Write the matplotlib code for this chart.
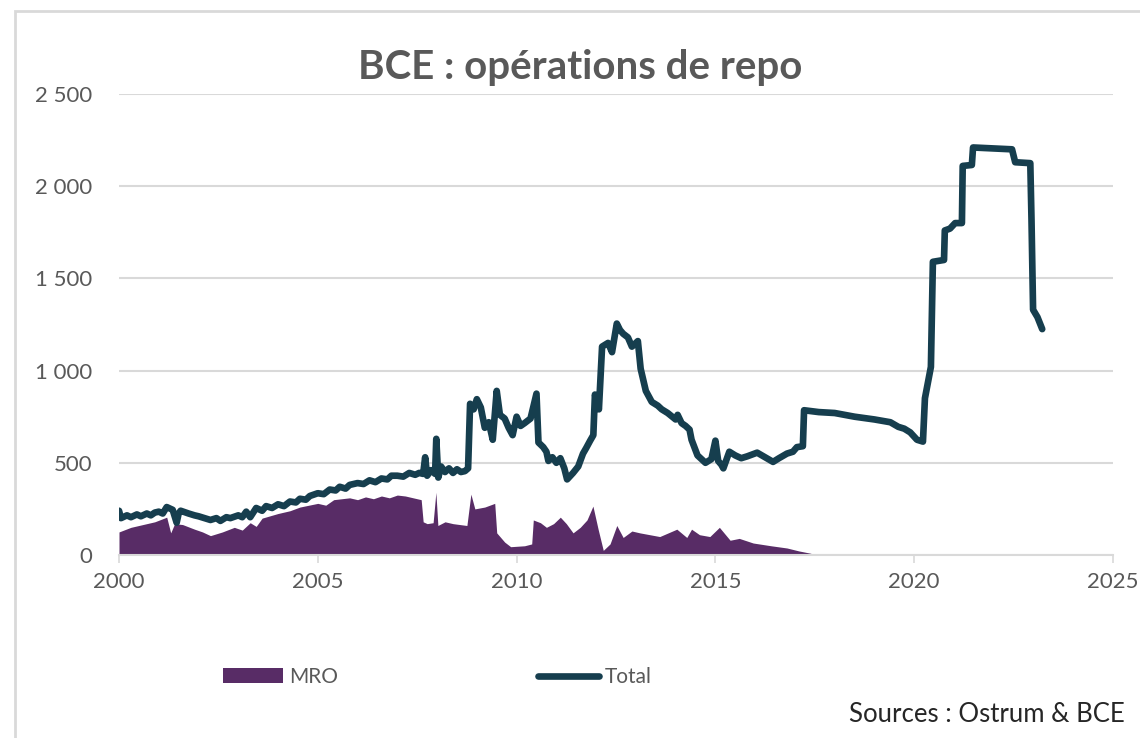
import matplotlib.pyplot as plt
from matplotlib.patches import Rectangle, Patch
from matplotlib.lines import Line2D
from matplotlib.ticker import FuncFormatter

plt.rcParams['font.family'] = ['Lato', 'DejaVu Sans']

# opérations de repo BCE (Mds EUR)
total_x = [2000.00, 2000.05, 2000.20, 2000.30, 2000.45, 2000.55, 2000.70, 2000.80, 2000.90, 2001.00,
           2001.10, 2001.20, 2001.35, 2001.45, 2001.50, 2001.55, 2001.75, 2001.90, 2002.00, 2002.15,
           2002.30, 2002.45, 2002.55, 2002.70, 2002.80, 2003.00, 2003.10, 2003.20, 2003.30, 2003.45,
           2003.60, 2003.70, 2003.85, 2004.00, 2004.15, 2004.30, 2004.45, 2004.55, 2004.70, 2004.80,
           2005.00, 2005.15, 2005.30, 2005.45, 2005.55, 2005.70, 2005.80, 2006.00, 2006.15, 2006.30,
           2006.45, 2006.60, 2006.75, 2006.85, 2007.00, 2007.15, 2007.30, 2007.45, 2007.55, 2007.65,
           2007.70, 2007.75, 2007.85, 2007.95, 2007.98, 2008.03, 2008.10, 2008.20, 2008.30, 2008.40,
           2008.50, 2008.60, 2008.70, 2008.78, 2008.83, 2008.92, 2009.00, 2009.10,
           2009.20, 2009.30, 2009.40, 2009.50, 2009.58, 2009.70, 2009.80, 2009.90, 2010.00, 2010.10,
           2010.20, 2010.35, 2010.50, 2010.55, 2010.67, 2010.75, 2010.80, 2010.90, 2011.00, 2011.10,
           2011.20, 2011.27, 2011.42, 2011.55, 2011.67, 2011.75, 2011.85, 2011.93, 2011.97, 2012.07,
           2012.15, 2012.30, 2012.40, 2012.52, 2012.60, 2012.68, 2012.80, 2012.90, 2013.05, 2013.12,
           2013.25, 2013.40, 2013.55, 2013.65, 2013.80, 2014.00, 2014.05, 2014.15, 2014.25, 2014.35,
           2014.40, 2014.55, 2014.65, 2014.75, 2014.90, 2015.00, 2015.07, 2015.15, 2015.20, 2015.35,
           2015.50, 2015.65, 2015.80, 2016.05, 2016.25, 2016.45, 2016.60, 2016.80, 2016.95, 2017.05,
           2017.20, 2017.23, 2017.60, 2018.00, 2018.50, 2019.00, 2019.40, 2019.60, 2019.75, 2019.90,
           2020.07, 2020.22, 2020.27, 2020.42, 2020.47, 2020.75, 2020.77, 2020.90, 2021.03, 2021.20,
           2021.22, 2021.45, 2021.48, 2022.00, 2022.46, 2022.54, 2022.92, 2022.95, 2022.99, 2023.10,
           2023.22]
total_y = [240, 200, 215, 205, 220, 210, 225, 215, 230, 235,
           225, 260, 245, 175, 225, 240, 225, 215, 210, 200,
           190, 200, 185, 205, 200, 215, 205, 235, 205, 255,
           240, 265, 255, 275, 265, 290, 285, 305, 300, 320,
           335, 330, 355, 350, 370, 360, 380, 390, 385, 405,
           395, 415, 410, 430, 430, 425, 445, 435, 445, 440,
           530, 430, 460, 440, 630, 420, 480, 450, 470, 445,
           465, 450, 455, 470, 820, 790, 845, 800,
           690, 720, 625, 890, 760, 740, 690, 650, 750, 700,
           715, 740, 875, 610, 585, 560, 510, 530, 500, 525,
           470, 410, 445, 480, 550, 580, 620, 650, 870, 790,
           1130, 1150, 1100, 1255, 1220, 1200, 1180, 1130, 1160, 1010,
           890, 830, 810, 790, 770, 735, 760, 715, 700, 680,
           625, 540, 520, 500, 520, 620, 510, 490, 470, 560,
           540, 525, 535, 555, 530, 505, 525, 550, 560, 585,
           590, 785, 775, 770, 750, 735, 720, 695, 685, 665,
           625, 615, 850, 1020, 1590, 1600, 1760, 1770, 1800, 1800,
           2110, 2115, 2210, 2205, 2200, 2130, 2125, 1820, 1330, 1290,
           1225]

mro_x = [2000.00, 2000.30, 2000.60, 2000.90, 2001.20, 2001.30, 2001.40, 2001.60, 2001.90, 2002.10,
         2002.30, 2002.60, 2002.90, 2003.10, 2003.30, 2003.45, 2003.60, 2004.00, 2004.30, 2004.55,
         2005.00, 2005.20, 2005.40, 2005.80, 2006.00, 2006.20, 2006.40, 2006.60, 2006.80, 2007.00,
         2007.20, 2007.40, 2007.60, 2007.65, 2007.75, 2007.90, 2007.97, 2008.02, 2008.20, 2008.40,
         2008.75, 2008.85, 2008.95, 2009.20, 2009.45, 2009.50, 2009.70, 2009.85, 2010.20, 2010.38,
         2010.42, 2010.60, 2010.75, 2010.93, 2011.10, 2011.25, 2011.42, 2011.60, 2011.77, 2011.92,
         2012.05, 2012.18, 2012.35, 2012.52, 2012.68, 2012.90, 2013.10, 2013.35, 2013.60, 2014.03,
         2014.28, 2014.40, 2014.60, 2014.86, 2015.10, 2015.37, 2015.60, 2015.95, 2016.40, 2016.80,
         2017.10, 2017.38, 2017.55]
mro_y = [125, 150, 165, 180, 205, 120, 170, 165, 140, 125,
         105, 125, 150, 135, 175, 155, 200, 225, 240, 260,
         280, 270, 300, 310, 300, 315, 305, 320, 310, 325,
         320, 310, 300, 180, 170, 175, 340, 160, 180, 170,
         160, 330, 250, 260, 280, 120, 70, 45, 50, 60,
         190, 175, 150, 170, 205, 170, 120, 150, 190, 265,
         140, 25, 60, 160, 95, 130, 120, 110, 100, 140,
         95, 140, 110, 100, 150, 80, 90, 65, 50, 38,
         22, 10, 0]

x_ticks = [2000, 2005, 2010, 2015, 2020, 2025]
y_ticks = [0, 500, 1000, 1500, 2000, 2500]

fig = plt.figure(figsize=(11.4, 7.38), dpi=100)
fig.patches.append(Rectangle((15 / 1140, -0.1), 1.2, 1 - 11 / 738 + 0.1, transform=fig.transFigure,
                             fill=False, edgecolor='#d9d9d9', linewidth=2))
ax = fig.add_axes([119 / 1140, 1 - 555 / 738, (1113 - 119) / 1140, (555 - 94) / 738])

ax.fill_between(mro_x, mro_y, 0, color='#582c66', linewidth=0)
ax.plot(total_x, total_y, color='#163e4e', linewidth=4.8, solid_joinstyle='round', solid_capstyle='round')

ax.set_xlim(2000, 2025)
ax.set_ylim(0, 2500)
ax.set_xticks(x_ticks)
ax.set_yticks(y_ticks)
ax.yaxis.set_major_formatter(FuncFormatter(lambda v, p: f'{int(v):,}'.replace(',', ' ')))
ax.grid(axis='y', color='#d9d9d9', linewidth=1.5)
ax.set_axisbelow(True)
for s in ['top', 'right', 'left']:
    ax.spines[s].set_visible(False)
ax.spines['bottom'].set_color('#d9d9d9')
ax.spines['bottom'].set_linewidth(1.5)
ax.tick_params(axis='y', length=0, pad=19, labelsize=16, labelcolor='#595959')
ax.tick_params(axis='x', length=6, width=1.2, color='#d9d9d9', pad=6, labelsize=16, labelcolor='#595959')

fig.text(580 / 1140, 1 - 67 / 738, 'BCE : opérations de repo', ha='center', va='center',
         fontsize=29, fontweight='bold', color='#595959')

handles = [Patch(facecolor='#582c66', edgecolor='none'),
           Line2D([0], [0], color='#163e4e', linewidth=4.8, solid_capstyle='round')]
fig.legend(handles, ['MRO', 'Total'], loc='center left', bbox_to_anchor=(204 / 1140, 1 - 677 / 738),
           ncol=2, frameon=False, fontsize=15, labelcolor='#595959', handlelength=2.9,
           handletextpad=0.3, columnspacing=9.6)

fig.text(1125 / 1140, 1 - 715 / 738, 'Sources : Ostrum & BCE', ha='right', va='center',
         fontsize=18.5, color='#262626')

fig.savefig('out.png', dpi=100)
